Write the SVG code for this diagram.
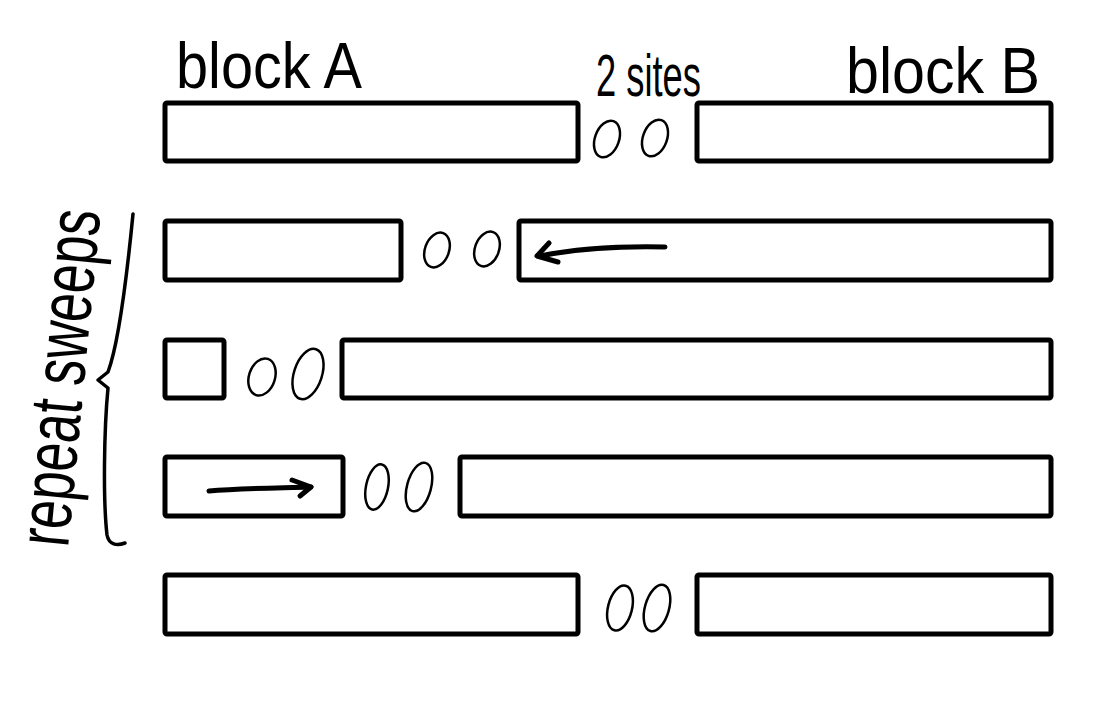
<svg xmlns="http://www.w3.org/2000/svg" width="1096" height="702" viewBox="0 0 1096 702">
<style>
.blk{fill:#fff;stroke:#000;stroke-width:5;stroke-linejoin:round}
.site{fill:none;stroke:#000;stroke-width:2.5}
.lbl{font-family:"Liberation Sans",Arial,sans-serif;fill:#000}
.arr{fill:none;stroke:#000;stroke-width:5;stroke-linecap:round;stroke-linejoin:round}
.brace{fill:none;stroke:#000;stroke-width:3.5;stroke-linecap:round;stroke-linejoin:round}
</style>
<rect width="1096" height="702" fill="#fff"/>
<g id="labels">
<text class="lbl" x="176" y="88" font-size="64" textLength="186" lengthAdjust="spacingAndGlyphs">block A</text>
<text class="lbl" x="596" y="96" font-size="60" textLength="105" lengthAdjust="spacingAndGlyphs">2 sites</text>
<text class="lbl" x="846" y="93" font-size="64" textLength="194" lengthAdjust="spacingAndGlyphs">block B</text>
<text class="lbl" transform="translate(68,548) rotate(-84.5)" x="0" y="0" font-size="74" textLength="338" lengthAdjust="spacingAndGlyphs">repeat sweeps</text>
</g>
<g id="brace">
<path class="brace" d="M133,214 C128,265 120,340 108,372 L98,380 L108,388 C104,430 103,500 107,535 C109,545 117,546 125,543"/>
</g>
<g id="row1">
<rect class="blk" x="165" y="103" width="413" height="58" rx="2"/>
<ellipse class="site" cx="607" cy="139" rx="12" ry="19" transform="rotate(20 607 139)"/>
<ellipse class="site" cx="655" cy="138" rx="12" ry="19" transform="rotate(20 655 138)"/>
<rect class="blk" x="697" y="103" width="354" height="58" rx="2"/>
</g>
<g id="row2">
<rect class="blk" x="165" y="221" width="236" height="59" rx="2"/>
<ellipse class="site" cx="437" cy="250" rx="12" ry="18" transform="rotate(20 437 250)"/>
<ellipse class="site" cx="487" cy="249" rx="12" ry="18" transform="rotate(20 487 249)"/>
<rect class="blk" x="519" y="221" width="532" height="59" rx="2"/>
</g>
<g id="row3">
<rect class="blk" x="165" y="340" width="59" height="58" rx="2"/>
<ellipse class="site" cx="262" cy="377" rx="13" ry="19" transform="rotate(18 262 377)"/>
<ellipse class="site" cx="308" cy="374" rx="14" ry="26" transform="rotate(18 308 374)"/>
<rect class="blk" x="342" y="340" width="709" height="58" rx="2"/>
</g>
<g id="row4">
<rect class="blk" x="165" y="457" width="178" height="59" rx="2"/>
<ellipse class="site" cx="377" cy="487" rx="11" ry="23" transform="rotate(12 377 487)"/>
<ellipse class="site" cx="419" cy="487" rx="12" ry="25" transform="rotate(15 419 487)"/>
<rect class="blk" x="460" y="457" width="591" height="59" rx="2"/>
</g>
<g id="row5">
<rect class="blk" x="165" y="575" width="413" height="59" rx="2"/>
<ellipse class="site" cx="620" cy="608" rx="12" ry="23" transform="rotate(14 620 608)"/>
<ellipse class="site" cx="657" cy="608" rx="12" ry="24" transform="rotate(16 657 608)"/>
<rect class="blk" x="697" y="575" width="354" height="59" rx="2"/>
</g>
<g id="connectors">
<path class="arr" d="M665,247 C620,246 580,248 540,256"/>
<path class="arr" d="M549,243 L537,256 L558,262"/>
<path class="arr" d="M209,491 C240,488 280,488 311,487"/>
<path class="arr" d="M292,480 L311,487 L300,496"/>
</g>
</svg>
